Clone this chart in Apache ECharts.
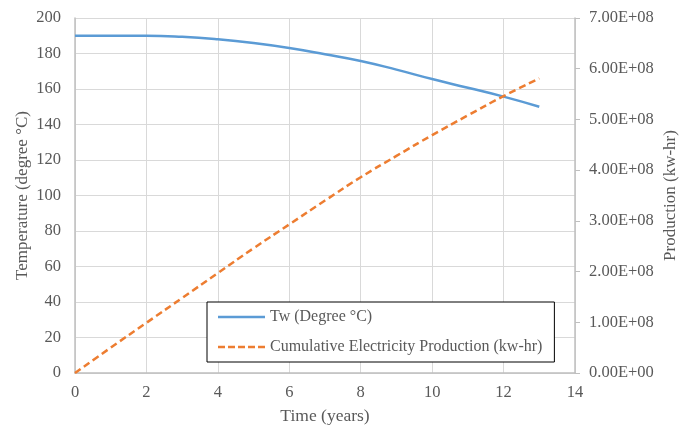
<!DOCTYPE html>
<html>
<head>
<meta charset="utf-8">
<script src="https://cdn.jsdelivr.net/npm/echarts@6/dist/echarts.min.js"></script>
<style>html,body{margin:0;padding:0;background:#fff}#c{width:688px;height:426px}</style>
</head>
<body>
<div id="c"></div>
<script>
var years = [0,1,2,3,4,5,6,7,8,9,10,11,12,13];
var tempTw = [190,190,190,189.4,188,185.9,183.1,179.6,175.8,170.9,165.6,160.7,155.7,150];
var cumProd = [0,0.5e8,0.99e8,1.48e8,1.97e8,2.46e8,2.93e8,3.40e8,3.86e8,4.28e8,4.69e8,5.08e8,5.46e8,5.81e8];
var xTicks = [0,2,4,6,8,10,12,14];

var FONT = '"Liberation Serif", "Times New Roman", serif';
var TXT = '#595959';
function sci(v){
  if (v === 0) return '0.00E+00';
  var e = Math.floor(Math.log10(Math.abs(v)));
  var m = v / Math.pow(10, e);
  var es = (e < 0 ? '-' : '+') + (Math.abs(e) < 10 ? '0' : '') + Math.abs(e);
  return m.toFixed(2) + 'E' + es;
}
var chart = echarts.init(document.getElementById('c'), null, {renderer:'canvas'});
chart.setOption({
  animation:false,
  backgroundColor:'#fff',
  grid:{left:75,right:113,top:18,bottom:53,containLabel:false,outerBoundsMode:'none'},
  legend:{
    orient:'vertical', left:207, top:302,
    padding:[7,12,7,11],
    itemWidth:47, itemHeight:14, itemGap:14,
    borderColor:'#000', borderWidth:1, backgroundColor:'#fff',
    textStyle:{fontFamily:FONT,fontSize:16,color:TXT},
    data:[
      {name:'Tw (Degree °C)', icon:'path://M0,0L47,0L47,2.5L0,2.5Z'},
      {name:'Cumulative Electricity Production (kw-hr)', icon:'path://M0,0L7,0L7,2.5L0,2.5ZM10,0L17,0L17,2.5L10,2.5ZM20,0L27,0L27,2.5L20,2.5ZM30,0L37,0L37,2.5L30,2.5ZM40,0L47,0L47,2.5L40,2.5Z'}
    ]
  },
  xAxis:{
    type:'value', min:0, max:14, interval:2,
    name:'Time (years)', nameLocation:'middle', nameGap:34, nameMoveOverlap:false,
    nameTextStyle:{fontFamily:FONT,fontSize:17.5,color:TXT},
    axisLine:{show:true,lineStyle:{color:'#bfbfbf',width:1.5}},
    axisTick:{show:false},
    axisLabel:{fontFamily:FONT,fontSize:16.5,color:TXT,margin:11},
    splitLine:{show:true,lineStyle:{color:'#d9d9d9',width:1}}
  },
  yAxis:[{
    type:'value', min:0, max:200, interval:20,
    name:'Temperature (degree °C)', nameLocation:'middle', nameGap:44, nameRotate:90, nameMoveOverlap:false,
    nameTextStyle:{fontFamily:FONT,fontSize:17,color:TXT},
    axisLine:{show:true,lineStyle:{color:'#bfbfbf',width:1.5}},
    axisTick:{show:false},
    axisLabel:{fontFamily:FONT,fontSize:16.5,color:TXT,margin:14},
    splitLine:{show:true,lineStyle:{color:'#d9d9d9',width:1}}
  },{
    type:'value', min:0, max:7e8, interval:1e8, position:'right',
    name:'Production (kw-hr)', nameLocation:'middle', nameGap:87, nameRotate:90, nameMoveOverlap:false,
    nameTextStyle:{fontFamily:FONT,fontSize:17,color:TXT},
    axisLine:{show:true,lineStyle:{color:'#bfbfbf',width:1.5}},
    axisTick:{show:true,length:5,lineStyle:{color:'#bfbfbf'}},
    axisLabel:{fontFamily:FONT,fontSize:16.5,color:TXT,margin:14,formatter:sci},
    splitLine:{show:false}
  }],
  series:[{
    name:'Tw (Degree °C)', type:'line', yAxisIndex:0, smooth:true, showSymbol:false,
    data: years.map(function(y,i){return [y,tempTw[i]];}),
    lineStyle:{color:'#5b9bd5',width:2.5}, itemStyle:{color:'#5b9bd5'}
  },{
    name:'Cumulative Electricity Production (kw-hr)', type:'line', yAxisIndex:1, smooth:true, showSymbol:false,
    data: years.map(function(y,i){return [y,cumProd[i]];}),
    lineStyle:{color:'#ed7d31',width:2.5,type:[7,4]}, itemStyle:{color:'#ed7d31'}
  }]
});
</script>
</body>
</html>
